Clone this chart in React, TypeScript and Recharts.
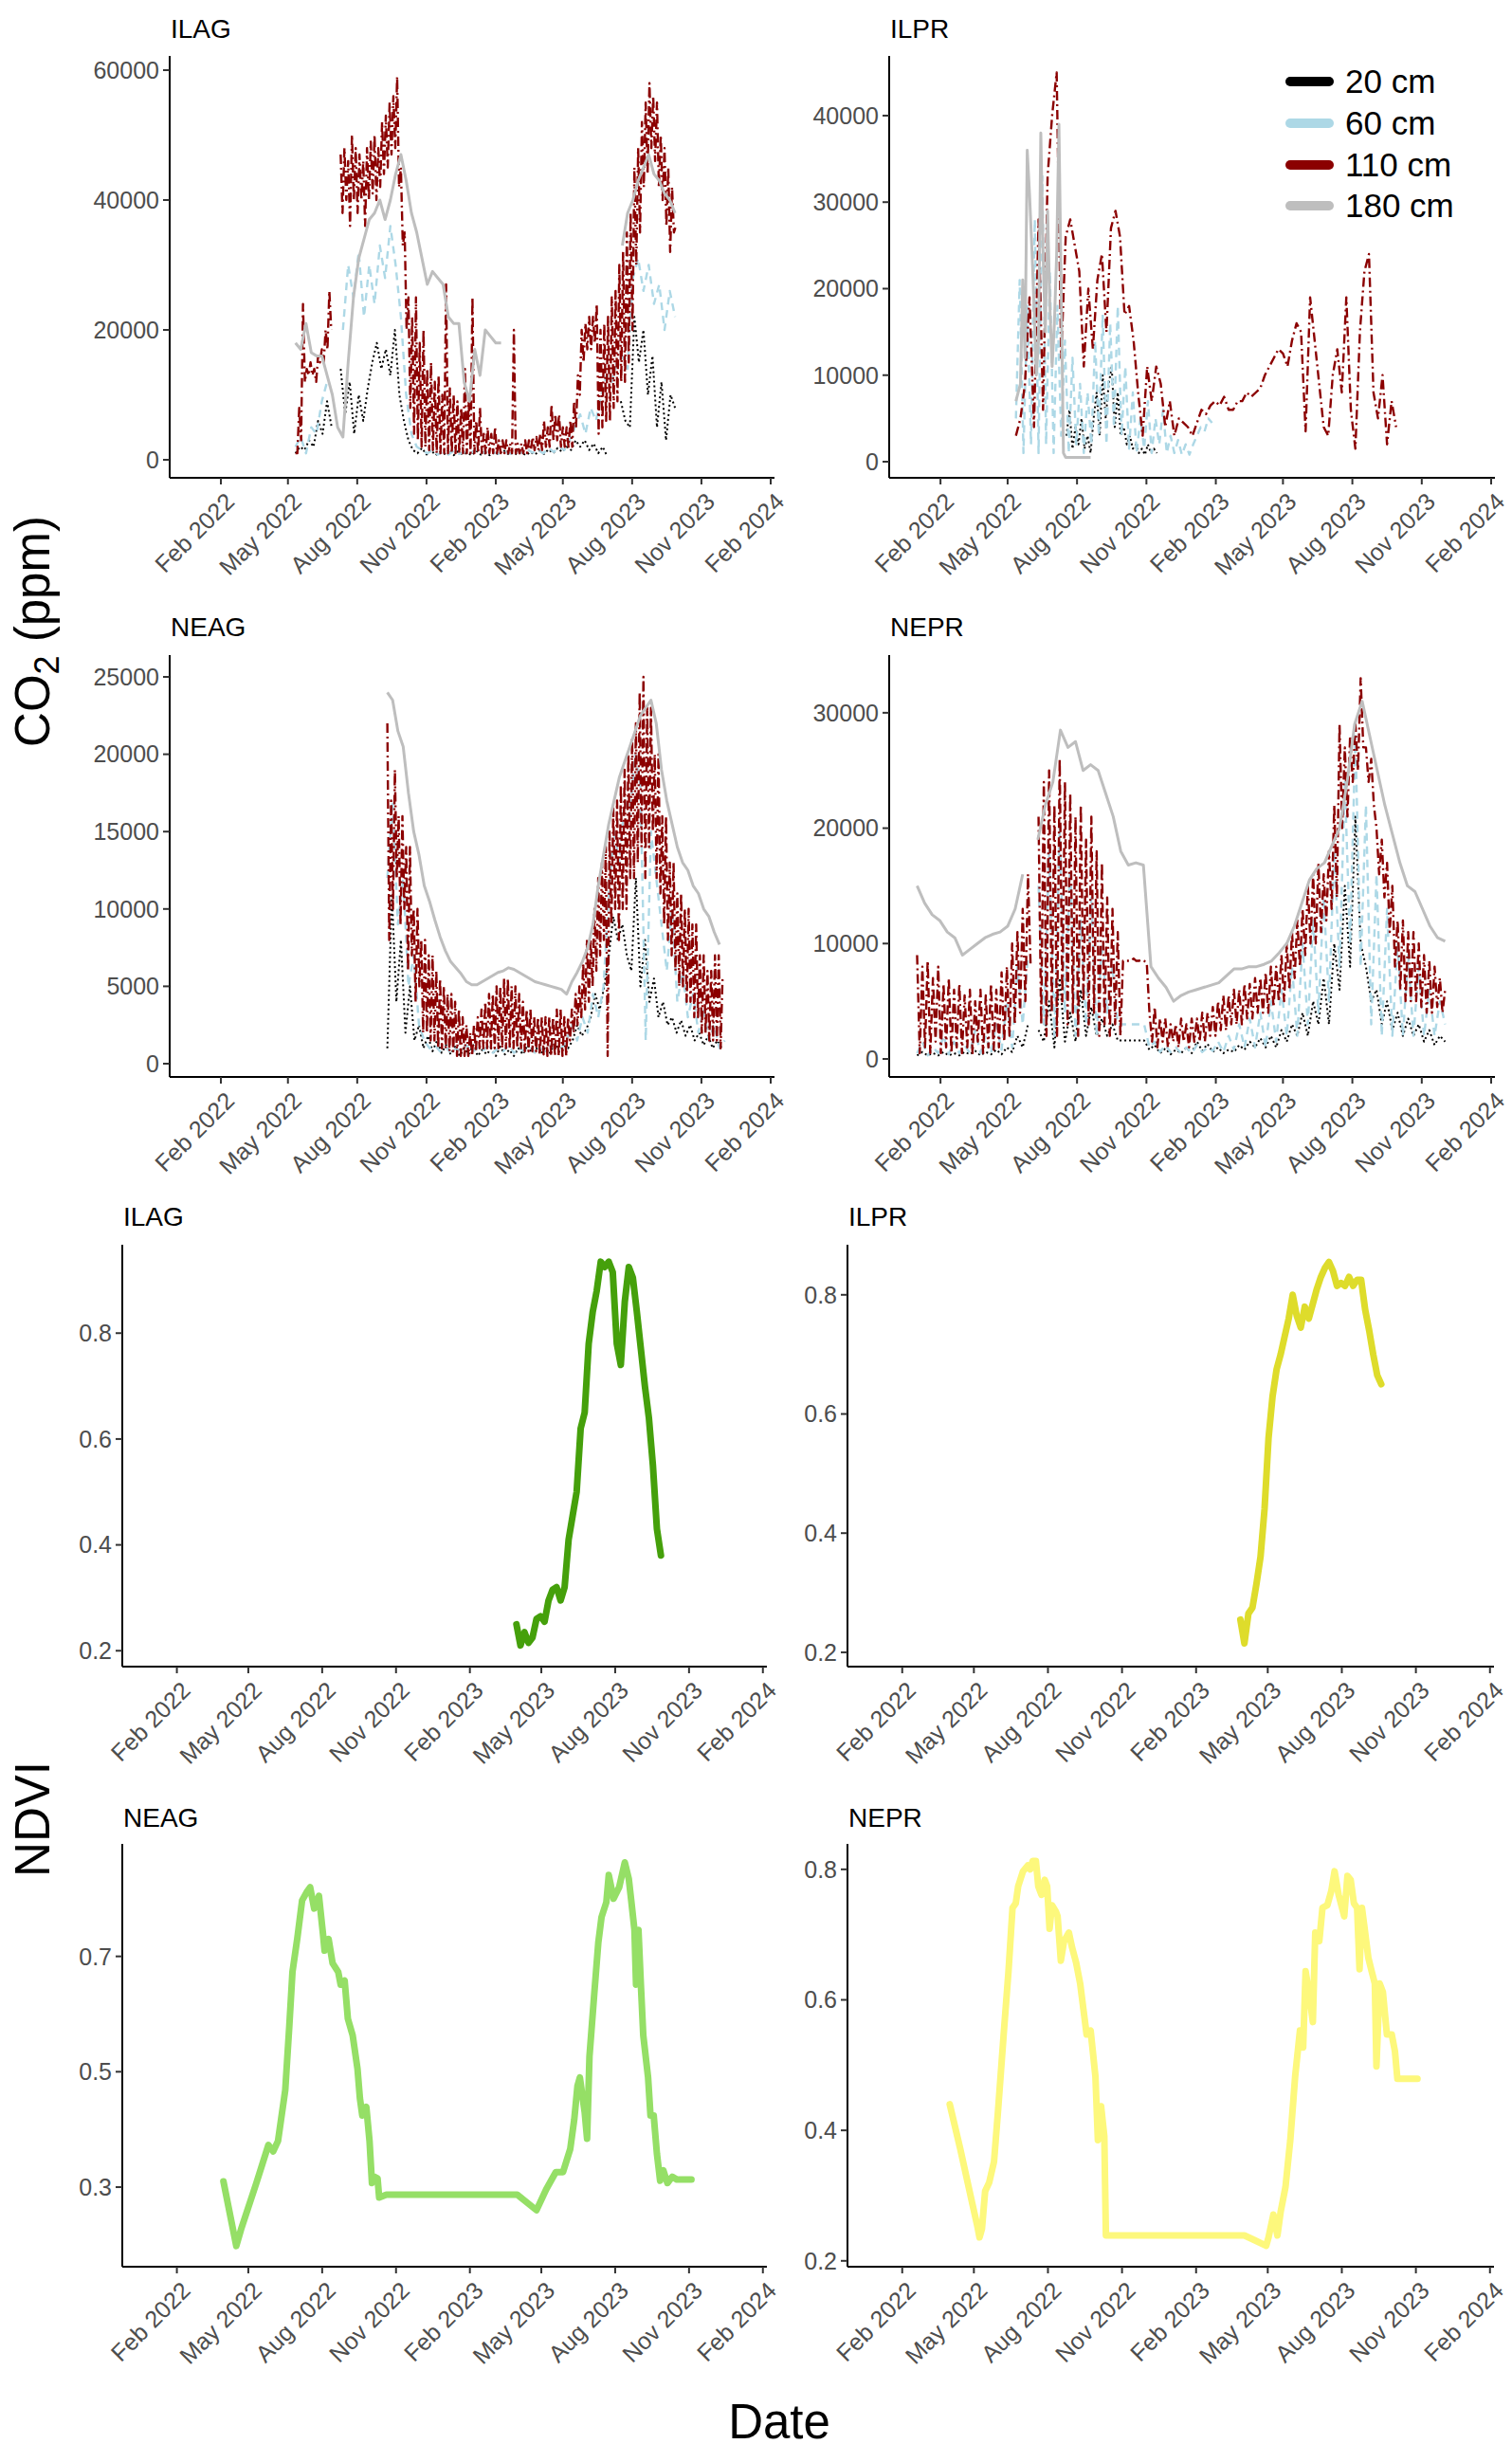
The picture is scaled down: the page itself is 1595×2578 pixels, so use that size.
import React from 'react'
import { LineChart, Line, XAxis, YAxis } from 'recharts'

const DAY = 86400000
const t = (s: string) => Date.parse(s + 'T00:00:00Z')

// CO2 values are in thousand ppm, on a regular date grid (start, step in days)
const DEPTHS = ['20 cm', '60 cm', '110 cm', '180 cm']
const DEPTH_COLORS = ['#000000', '#ADD8E6', '#8B0000', '#BEBEBE']
const DEPTH_DASH = ['2 3', '8 6', '10 4 2 4', undefined]
const DEPTH_WIDTH = [2, 2.4, 2.4, 3]

const ILAG_20 = [1, 2, 1.5, 3, 2, 6, 4, 9, 5, null, 14, 7, 12, 4, 10, 6, 11, 15, 18, 14, 17, 13, 20, 10, 6, 3, 1.5,
  1, 1.8, 0.8, 1.5, 0.7, 1.2, 0.9, 1.6, 0.7, 1.3, 0.8, 1.1, 0.7, 1.4, 0.8, 1, 0.7, 1.2, 0.8, 1.5, 0.9, 1.3, 0.8, 1.1, 0.7, 1.2, 0.8, 1.4, 0.9, 1.6, 1, 1.8, 1.2, 2, 1.5,
  3, 2, 3, 1.5, 2.5, 1, 2, 0.5, null, null, 9, 6, 5, 22, 15, 20, 10, 16, 5, 12, 3, 10, 8]
const ILAG_60 = [2, 3.5, 1, 5, 4, 9, 12, null, null, 20, 30, 25, 32, 22, 30, 24, 33, 28, 36, 30, 22, 10, 4, 2, 1.5,
  1, 1.5, 0.8, 1.2, 0.8, 1.4, 0.9, 1.2, 0.8, 1.5, 0.9, 1.3, 0.8, 1.1, 0.8, 1.2, 0.9, 1.4, 1, 1.6, 1.1, 1.5, 1, 1.8, 1.2, 2, 1.5,
  3, 5, 7, 4, 8, 6, 10, 13, 12, 15, 16, 14, 28, 31, 26, 30, 24, 27, 20, 26, 22]
const ILAG_110 = [1, 1, 8, 3, 24, 12, 14, 13, 15, 13, 14, 12, 16, 15, 17, 15, 20, 17, 26, 20,
  null, null, null, null, 47, 38, 48, 40, 46, 36, 50, 40, 48, 38, 47, 40, 46, 36, 48, 40,
  49, 41, 50, 40, 48, 42, 52, 44, 53, 45, 55, 47, 56, 48, 59, 42, 45, 33, 35, 20,
  25, 8, 22, 4, 25, 3, 18, 2, 20, 2, 14, 1.5, 15, 1.5, 12, 1, 13, 1, 10, 1,
  27, 1, 11, 1, 10, 1, 9, 1, 8, 1, 14, 1, 9, 1, 25, 1, 6, 1, 8, 1,
  4, 1, 5, 1, 4, 1, 5, 1, 3, 1, 3, 1, 3, 1, 2.5, 1, 20, 1, 2.5, 1,
  2.5, 1, 3, 1, 3, 1.5, 3.5, 1.5, 3.5, 1.5, 4, 1.5, 6, 2, 5, 2, 8.5, 3, 7, 3,
  7, 2, 5, 2, 5, 2, 6, 2, 9, 5, 13, 10, 20, 15, 21, 17, 22, 17, 22, 18,
  24, 4, 20, 5, 21, 6, 22, 6, 25, 8, 26, 9, 30, 12, 32, 12, 35, 15, 38, 20,
  45, 30, 48, 35, 52, 42, 55, 44, 58, 48, 56, 46, 55, 42, 50, 40, 48, 36, 45, 32,
  42, 35, 36]
const ILAG_180 = [18, 17, 21, 16.5, 16, 16, 13, 10, 5, 3.5, 15, 25, 31, 34, 37, 38, 40, 37, 40, 44,
  47, 43, 38, 35, 31, 27, 29, 28, 27, 22, 21, 21, 12, 9, 17, 13, 20, 19, 18, 18,
  null, null, null, null, null, null, null, null, null, null, null, null, null, null, null, null, null, null, null, null, null, null,
  33, 38, 40, 43, 45, 47, 44, 43, 41, 40, 38]

const ILPR_20 = [3, 6, 1.5, 4, 2, 5, 1.5, 3, 1, 5, 8, 3, 10, 5, 9, 11, 4, 8, 3, 4, 2, 3, 1.5, 2, 1, 1.5, 0.8, 2, 1, 1.5, 1]
const ILPR_60 = [5, 21, 1, 18, 2, 28, 1, 33, 2, 22, 1, 18, 3, 14, 1, 12, 2, 9, 1, 8, 2, 14, 3, 17, 2, 16, 4, 18, 3, 11,
  1.5, 8, 1, 5, 1.5, 7, 1, 5, 2, 6, 1, 3, 1, 2.5, 0.8, 2, 0.8, 2, 3, 4, 3.5, 5, 4.5]
const ILPR_110 = [3, 5, 9, 19, 4, 28, 6, 33, 40, 45, 12, 26, 28, 25, 22, 11, 20, 13, 21, 24,
  15, 27, 29, 26, 17, 18, 14, 8, 3, 11, 7, 11, 9, 4, 7, 3, 5, 4.5, 4, 3,
  4.5, 6, 5.5, 6.5, 7, 6.5, 7.5, 6, 6, 7, 7, 8, 7.5, 8, 8.5, 10, 11, 12, 13, 12.5,
  11, 14, 16, 15, 3.5, 19, 14, 9, 4, 3, 10, 13, 8, 19, 6, 1.5, 15, 22, 24, 8, 5, 10, 2, 7, 4]
const ILPR_180 = [7, 8, 9, 21, 12, 36, 31, 25, 18, 10, 14, 38, 24, 15, 29, 18, 11, 16, 24, 39,
  20, 1, 0.5, 0.5, 0.5, 0.5, 0.5, 0.5, 0.5, 0.5, 0.5, 0.5, 0.5, 0.5]

const NEAG_20 = [1, 11, 4, 8, 2, 5, 1.5, 2.5, 1, 1.8, 0.8, 1.5, 0.7, 1.2,
  0.6, 1.1, 0.5, 1, 0.6, 1.2, 0.5, 0.9, 0.6, 1, 0.5, 1.1, 0.6, 0.9, 0.5, 1, 0.6, 1.2, 0.7, 1, 0.6, 1.1, 0.7, 1.3, 0.8, 1.2, 1,
  1.5, 2.5, 1.8, 2.2, 3, 4.5, 3.5, 5, 7, 9.5, 8, 9, 7, 6, 12, 5, 8, 4, 5.5, 3, 4, 2.5, 3, 2, 2.8, 1.8, 2.5, 1.5, 2, 1.2, 1.8, 1, 1.5, 1]
const NEAG_60 = [12, 17, 9, 12, 5, 7, 2.5, 1.5, 1,
  1.2, 0.8, 1.1, 0.7, 1, 0.8, 1.2, 0.7, 1, 0.8, 1.1, 0.7, 1, 0.8, 1.2, 0.7, 1, 0.8, 1.1, 0.7, 1, 0.8, 1.2, 0.9, 1,
  1.5, 2.5, 1.5, 3, 2, 4.5, 3, 5, 11, 15, 13, 17, 16, 20, 18, 1.5, 15, 12, 9, 6, 10, 4, 6, 3, 4.5, 2, 3.5, 1.5, 2.5, 1, 1.5]
const NEAG_110 = [22, 8, 17, 10, 19, 12, 16, 9, 16, 10, 14, 6, 14, 7, 10, 4, 10, 5, 8, 2,
  8, 2, 7, 1.5, 7, 1.5, 6, 1, 5.5, 1, 5, 1, 4.5, 0.8, 4.5, 0.8, 4, 0.5, 3.5, 0.5,
  3, 0.5, 2.5, 0.5, 2, 0.5, 2.5, 0.8, 3, 1, 3.5, 1, 4, 1, 4.5, 1, 4.5, 1, 5, 1,
  5, 1, 5.5, 1, 5.5, 1, 5, 1, 5, 1, 4.5, 1, 4, 0.8, 3.5, 0.8, 3.5, 0.8, 3, 0.8,
  3, 0.6, 3, 0.6, 3, 0.5, 3, 0.5, 3, 0.5, 3.5, 0.5, 3.5, 0.5, 3, 0.5, 3, 1.5, 3.5, 2,
  4.5, 2.5, 5, 3, 6.5, 3.5, 8, 4, 8, 5, 10, 6, 12, 7, 13, 8, 14, 0.5, 15, 9,
  16.5, 10, 17, 8, 18, 10, 19, 10, 20, 12, 21, 12, 22, 13, 24, 14, 25, 12, 23, 14,
  23, 15, 20, 12, 20, 11, 16, 9, 16, 8, 13, 7, 13, 6, 11, 5, 11, 5, 10, 4,
  10, 4, 9, 3, 9, 3, 7, 2, 7, 2, 6, 1.5, 6, 1.5, 7, 1.5, 7, 1, 5.5]
const NEAG_180 = [24, 23.5, 21.5, 20.5, 17.5, 15, 13.5, 11.5, 10.5, 9.3, 8.2, 7.3, 6.6, 6.2, 5.8, 5.3, 5.1, 5.1, 5.3, 5.5,
  5.7, 5.9, 6, 6.2, 6.1, 5.9, 5.7, 5.5, 5.3, 5.2, 5.1, 5, 4.9, 4.8, 4.5, 5.3, 5.9, 6.6, 7.5, 9,
  11.5, 13.5, 15.5, 17, 18.5, 19.5, 20.5, 21.5, 22.5, 23, 23.5, 22, 19, 17, 15.5, 14, 13, 12.5, 11.5, 11,
  10, 9.5, 8.5, 7.7]

const NEPR_20 = [0.3, 0.6, 0.3, 0.5, 0.3, 0.6, 0.3, 0.5, 0.3, 0.6, 0.4, 0.7, 0.3, 0.6, 0.4, 0.8, 0.4, 1, 0.6, 2,
  1, 3, null, 2.5, 1.5, 5, 1, 7, 1.5, 4, 1.5, 6, 2, 4.5, 2, 3.5, 2, 3, 1.6, 1.6,
  1.6, 1.6, 1.6, 1.6, 0.8, 1.2, 0.5, 0.9, 0.4, 0.8, 0.5, 1, 0.5, 1.5, 0.7, 1.3, 0.6, 1, 0.5, 0.8,
  0.6, 1.2, 0.8, 1.5, 1, 1.8, 1, 2, 1, 2.5, 1.5, 3, 2, 4, 2, 5, 3, 7, 3, 10,
  6, 15, 8, 21, 10, 8, 5, 6, 3, 5, 2.5, 4, 2, 3.5, 2, 3, 1.5, 2.5, 1.2, 2, 1.5]
const NEPR_60 = [0.5, 1.5, 0.3, 1, 0.5, 2, 0.4, 1.5, 0.5, 1.2, 0.5, 2.5, 0.5, 2, 0.5, 3, 0.8, 5, 1, 8,
  3, 9, null, 15, 3, 18, 2, 20, 4, 17, 2, 12, 3, 14, 2, 10, 4, 8, 3, 3,
  3, 3, 3, 3, 1, 1.5, 0.6, 1.2, 0.6, 1, 0.5, 1, 0.5, 1.2, 0.6, 1, 0.7, 1.5, 0.6, 2,
  0.8, 3, 1, 3.5, 1, 4, 1, 5, 1.5, 6, 2, 8, 2, 10, 3, 12, 4, 14, 5, 18,
  8, 24, 10, 28, 8, 22, 3, 16, 2, 13, 2, 10, 2, 9, 2, 8, 2, 6, 2, 5, 3]
const NEPR_110 = [9, 0.5, 8, 1, 8.5, 0.5, 7, 1.5, 8, 0.5, 6.5, 1, 7, 0.5, 6, 1, 6.5, 0.5, 5.5, 1,
  6, 0.5, 5, 1.5, 6, 0.5, 5.5, 1, 6.5, 0.8, 6, 1, 7.5, 1.5, 8, 2, 10, 3, 11, 4,
  13, 5, 16, 8, null, null, 21, 3, 24, 2, 25, 4, 22, 2, 26, 5, 24, 3, 23, 4,
  21, 2, 22, 5, 19, 3, 21, 4, 18, 2, 17, 3, 14, 2, 13, 3, 11, 2, 8.5, 8.5,
  8.5, 8.5, 8.7, 8.5, 8.5, 8.6, 8.5, 8.3, 4, 1.5, 4.5, 1, 3.5, 1.5, 3.5, 1, 3, 1.5,
  3, 1, 3.5, 1.5, 3, 1, 3.5, 1.5, 3.5, 1.5, 4, 1.5, 4, 2, 4.5, 2, 5, 2.5, 5.5, 2.5,
  5.5, 3, 6, 3, 6, 3, 6.5, 3.5, 6.5, 3.5, 7, 4, 7, 4, 7.5, 4, 8, 4.5, 8, 5,
  9, 5, 10, 6, 11, 7, 12, 8, 13, 9, 15, 10, 16, 10, 17, 11, 16, 12, 18, 13,
  22, 14, 29, 20, 27, 21, 28, 24, 29, 25, 33, 27, 27, 24, 26, 22, 20, 16, 19, 14,
  17, 11, 15, 8, 12, 6, 12, 5, 11, 5, 11, 5, 10, 4.5, 9, 4, 8.5, 4, 8, 4.5,
  7, 4, 6]
const NEPR_180 = [15, 13.5, 12.5, 12, 11, 10.5, 9, 9.5, 10, 10.5, 10.8, 11, 11.5, 13, 16, null, 19, 22, 24, 28.5,
  27, 27.5, 25, 25.5, 25, 23, 21, 18, 16.8, 17, 16.8, 8, 7, 6.2, 5, 5.5, 5.8, 6, 6.2, 6.4,
  6.6, 7.2, 7.8, 7.8, 8, 8, 8.2, 8.5, 9.2, 10, 11.5, 13.5, 15.5, 16.5, 17, 18.5, 20, 24, 29, 31,
  28, 25, 22, 19.5, 17, 15, 14.5, 13, 11.5, 10.5, 10.2]

// NDVI
const ILAG_NDVI = [0.25, 0.21, 0.235, 0.215, 0.225, 0.26, 0.265, 0.255, 0.295, 0.315, 0.32, 0.295, 0.32, 0.41, 0.455, 0.5,
  0.62, 0.65, 0.78, 0.84, 0.88, 0.935, 0.925, 0.935, 0.915, 0.78, 0.74, 0.86, 0.925, 0.905, 0.84, 0.77, 0.7, 0.64, 0.55, 0.43, 0.38]
const ILPR_NDVI = [0.255, 0.215, 0.265, 0.275, 0.315, 0.36, 0.44, 0.56, 0.63, 0.675, 0.7, 0.73, 0.76, 0.8, 0.765, 0.745,
  0.78, 0.76, 0.785, 0.81, 0.83, 0.845, 0.855, 0.84, 0.815, 0.82, 0.815, 0.83, 0.815, 0.825, 0.825, 0.775, 0.74, 0.7, 0.665, 0.65]

const NEAG_NDVI_DATES = ['2022-03-31', '2022-04-16', '2022-04-22', '2022-05-11', '2022-05-26', '2022-06-01', '2022-06-07',
  '2022-06-16', '2022-06-21', '2022-06-25', '2022-07-01', '2022-07-07', '2022-07-13', '2022-07-17', '2022-07-22',
  '2022-07-28', '2022-08-02', '2022-08-04', '2022-08-09', '2022-08-14', '2022-08-21', '2022-08-24', '2022-08-29',
  '2022-09-02', '2022-09-08', '2022-09-14', '2022-09-17', '2022-09-20', '2022-09-25', '2022-09-29', '2022-10-02',
  '2022-10-05', '2022-10-09', '2022-10-11', '2022-10-20', '2023-04-01', '2023-04-25', '2023-05-07', '2023-05-19',
  '2023-05-28', '2023-06-06', '2023-06-11', '2023-06-15', '2023-06-18', '2023-06-24', '2023-06-27', '2023-06-30',
  '2023-07-06', '2023-07-11', '2023-07-15', '2023-07-21', '2023-07-24', '2023-07-30', '2023-08-06', '2023-08-13',
  '2023-08-18', '2023-08-21', '2023-08-25', '2023-08-27', '2023-08-30', '2023-09-02', '2023-09-05', '2023-09-11',
  '2023-09-14', '2023-09-18', '2023-09-22', '2023-09-26', '2023-09-30', '2023-10-05', '2023-10-11', '2023-10-17', '2023-11-04']
const NEAG_NDVI = [0.31, 0.198, 0.227, 0.307, 0.373, 0.362, 0.38, 0.468, 0.578, 0.673, 0.731, 0.797, 0.812, 0.82, 0.783,
  0.805, 0.739, 0.71, 0.73, 0.688, 0.673, 0.651, 0.658, 0.592, 0.563, 0.505, 0.454, 0.424, 0.439, 0.38, 0.307,
  0.318, 0.315, 0.282, 0.287, 0.287, 0.26, 0.296, 0.326, 0.326, 0.366, 0.417, 0.475, 0.49, 0.43, 0.384, 0.527,
  0.636, 0.724, 0.768, 0.794, 0.841, 0.8, 0.82, 0.863, 0.834, 0.797, 0.746, 0.651, 0.746, 0.651, 0.563, 0.49,
  0.424, 0.424, 0.358, 0.311, 0.329, 0.307, 0.318, 0.313, 0.313]

const NEPR_NDVI_DATES = ['2022-04-01', '2022-04-14', '2022-04-29', '2022-05-05', '2022-05-08', '2022-05-11', '2022-05-15',
  '2022-05-20', '2022-05-26', '2022-05-31', '2022-06-07', '2022-06-13', '2022-06-18', '2022-06-22', '2022-06-25',
  '2022-07-01', '2022-07-07', '2022-07-10', '2022-07-13', '2022-07-17', '2022-07-20', '2022-07-24', '2022-07-28',
  '2022-07-31', '2022-08-03', '2022-08-06', '2022-08-11', '2022-08-13', '2022-08-17', '2022-08-21', '2022-08-27',
  '2022-08-31', '2022-09-05', '2022-09-10', '2022-09-14', '2022-09-18', '2022-09-23', '2022-09-29', '2022-10-02',
  '2022-10-06', '2022-10-10', '2022-10-12', '2023-04-02', '2023-04-14', '2023-04-29', '2023-05-02', '2023-05-08',
  '2023-05-13', '2023-05-17', '2023-05-23', '2023-05-29', '2023-06-04', '2023-06-10', '2023-06-14', '2023-06-17',
  '2023-06-22', '2023-06-26', '2023-06-29', '2023-07-04', '2023-07-08', '2023-07-14', '2023-07-19', '2023-07-23',
  '2023-07-28', '2023-08-04', '2023-08-08', '2023-08-12', '2023-08-16', '2023-08-20', '2023-08-23', '2023-08-26',
  '2023-08-30', '2023-09-03', '2023-09-07', '2023-09-11', '2023-09-13', '2023-09-17', '2023-09-21', '2023-09-26',
  '2023-10-02', '2023-10-06', '2023-10-09', '2023-11-03']
const NEPR_NDVI = [0.44, 0.372, 0.288, 0.255, 0.236, 0.249, 0.307, 0.32, 0.352, 0.43, 0.547, 0.644, 0.741, 0.748, 0.774,
  0.797, 0.806, 0.8, 0.813, 0.813, 0.774, 0.761, 0.784, 0.774, 0.709, 0.745, 0.735, 0.728, 0.66, 0.69, 0.703,
  0.68, 0.657, 0.625, 0.586, 0.547, 0.553, 0.482, 0.385, 0.437, 0.391, 0.239, 0.239, 0.232, 0.223, 0.236, 0.271,
  0.239, 0.275, 0.313, 0.385, 0.482, 0.553, 0.527, 0.644, 0.605, 0.566, 0.703, 0.69, 0.741, 0.745, 0.767, 0.797,
  0.761, 0.728, 0.79, 0.784, 0.748, 0.741, 0.647, 0.741, 0.703, 0.664, 0.644, 0.625, 0.498, 0.625, 0.612, 0.547,
  0.547, 0.521, 0.479, 0.479]

const X_DOMAIN = [t('2021-11-25'), t('2024-02-06')]
const X_TICKS = ['2022-02-01', '2022-05-01', '2022-08-01', '2022-11-01', '2023-02-01', '2023-05-01', '2023-08-01', '2023-11-01', '2024-02-01'].map(t)
const MONTHS = ['Jan', 'Feb', 'Mar', 'Apr', 'May', 'Jun', 'Jul', 'Aug', 'Sep', 'Oct', 'Nov', 'Dec']

type Pt = { t: number; v: number | null }

function grid(start: string, step: number, values: (number | null)[], scale = 1): Pt[] {
  const t0 = t(start)
  return values.map((v, i) => ({ t: t0 + i * step * DAY, v: v == null ? null : v * scale }))
}

function pairs(dates: string[], values: number[]): Pt[] {
  return dates.map((d, i) => ({ t: t(d), v: values[i] }))
}

const depthSeries = (list: Pt[][]) =>
  list.map((data, i) => ({ data, color: DEPTH_COLORS[i], dash: DEPTH_DASH[i], width: DEPTH_WIDTH[i], name: DEPTHS[i] }))

const PANELS = [
  {
    title: 'ILAG', box: [179, 59, 817, 504], titleY: 40, yDomain: [-2774, 62190], yTicks: [0, 20000, 40000, 60000],
    lines: depthSeries([grid('2022-05-11', 6, ILAG_20, 1000), grid('2022-05-11', 7, ILAG_60, 1000), grid('2022-05-11', 2.5, ILAG_110, 1000), grid('2022-05-11', 7, ILAG_180, 1000)]),
  },
  {
    title: 'ILPR', box: [938, 59, 1577, 504], titleY: 40, yDomain: [-1863, 46900], yTicks: [0, 10000, 20000, 30000, 40000],
    lines: depthSeries([grid('2022-07-18', 4, ILPR_20, 1000), grid('2022-05-12', 5, ILPR_60, 1000), grid('2022-05-12', 6, ILPR_110, 1000), grid('2022-05-12', 3, ILPR_180, 1000)]),
  },
  {
    title: 'NEAG', box: [179, 691, 817, 1136], titleY: 671, yDomain: [-858, 26410], yTicks: [0, 5000, 10000, 15000, 20000, 25000],
    lines: depthSeries([grid('2022-09-10', 6, NEAG_20, 1000), grid('2022-09-10', 7, NEAG_60, 1000), grid('2022-09-10', 2.5, NEAG_110, 1000), grid('2022-09-10', 7, NEAG_180, 1000)]),
  },
  {
    title: 'NEPR', box: [938, 691, 1577, 1136], titleY: 671, yDomain: [-1561, 35000], yTicks: [0, 10000, 20000, 30000],
    lines: depthSeries([grid('2022-01-01', 7, NEPR_20, 1000), grid('2022-01-01', 7, NEPR_60, 1000), grid('2022-01-01', 3.5, NEPR_110, 1000), grid('2022-01-01', 10, NEPR_180, 1000)]),
  },
  {
    title: 'ILAG', box: [129, 1313, 809, 1758], titleY: 1293, yDomain: [0.17, 0.967], yTicks: [0.2, 0.4, 0.6, 0.8],
    lines: [{ data: grid('2023-03-31', 5, ILAG_NDVI), color: '#45A00B', dash: undefined, width: 7, name: 'NDVI' }],
  },
  {
    title: 'ILPR', box: [894, 1313, 1576, 1758], titleY: 1293, yDomain: [0.176, 0.884], yTicks: [0.2, 0.4, 0.6, 0.8],
    lines: [{ data: grid('2023-03-28', 5, ILPR_NDVI), color: '#DEDC2B', dash: undefined, width: 7, name: 'NDVI' }],
  },
  {
    title: 'NEAG', box: [129, 1945, 809, 2391], titleY: 1927, yDomain: [0.162, 0.895], yTicks: [0.3, 0.5, 0.7],
    lines: [{ data: pairs(NEAG_NDVI_DATES, NEAG_NDVI), color: '#95DF66', dash: undefined, width: 7, name: 'NDVI' }],
  },
  {
    title: 'NEPR', box: [894, 1945, 1576, 2391], titleY: 1927, yDomain: [0.191, 0.839], yTicks: [0.2, 0.4, 0.6, 0.8],
    lines: [{ data: pairs(NEPR_NDVI_DATES, NEPR_NDVI), color: '#FDF87C', dash: undefined, width: 7, name: 'NDVI' }],
  },
]

const FONT = '"Liberation Sans", Arial, sans-serif'
const TICK_COLOR = '#4D4D4D'

function DateTick(props: any) {
  const { x, y, payload } = props
  const d = new Date(payload.value)
  return (
    <g transform={`translate(${x + 3},${y + 1})`}>
      <text transform="rotate(-45)" textAnchor="end" dy="0.72em" fontSize={25} fill={TICK_COLOR} fontFamily={FONT}>
        {`${MONTHS[d.getUTCMonth()]} ${d.getUTCFullYear()}`}
      </text>
    </g>
  )
}

function Panel({ p }: { p: (typeof PANELS)[number] }) {
  const YW = 110
  const MT = 10
  const MR = 30
  const XH = 130
  const [x0, y0, x1, y1] = p.box
  const w = x1 - x0
  const h = y1 - y0
  return (
    <div style={{ position: 'absolute', left: x0 - YW, top: y0 - MT }}>
      <LineChart width={YW + w + MR} height={MT + h + XH} margin={{ top: MT, right: MR, bottom: 0, left: 0 }}>
        <XAxis
          dataKey="t"
          type="number"
          domain={X_DOMAIN}
          ticks={X_TICKS}
          interval={0}
          allowDataOverflow
          height={XH}
          tickSize={7}
          tickMargin={6}
          tick={<DateTick />}
          axisLine={{ stroke: '#000', strokeWidth: 2 }}
          tickLine={{ stroke: '#333', strokeWidth: 2 }}
        />
        <YAxis
          type="number"
          domain={p.yDomain}
          ticks={p.yTicks}
          interval={0}
          allowDataOverflow
          width={YW}
          tickSize={7}
          tickMargin={4}
          tick={{ fill: TICK_COLOR, fontSize: 25, fontFamily: FONT }}
          axisLine={{ stroke: '#000', strokeWidth: 2 }}
          tickLine={{ stroke: '#333', strokeWidth: 2 }}
        />
        {p.lines.map((s, i) => (
          <Line
            key={i}
            data={s.data}
            dataKey="v"
            name={s.name}
            type="linear"
            stroke={s.color}
            strokeWidth={s.width}
            strokeDasharray={s.dash}
            strokeLinecap={s.width > 3 ? 'round' : 'butt'}
            strokeLinejoin="round"
            dot={false}
            activeDot={false}
            connectNulls={false}
            isAnimationActive={false}
          />
        ))}
      </LineChart>
    </div>
  )
}

export default function App() {
  const legendY = [86, 130, 174, 217]
  return (
    <div style={{ position: 'absolute', left: 0, top: 0, width: 1595, height: 2578, background: '#fff', fontFamily: FONT }}>
      {PANELS.map((p, i) => (
        <Panel key={i} p={p} />
      ))}
      <svg width={1595} height={2578} style={{ position: 'absolute', left: 0, top: 0, pointerEvents: 'none' }} fontFamily={FONT}>
        {PANELS.map((p, i) => (
          <text key={i} x={p.box[0] + 1} y={p.titleY} fontSize={28} fill="#000">
            {p.title}
          </text>
        ))}
        {DEPTHS.map((d, i) => (
          <g key={d}>
            <line x1={1361} x2={1402} y1={legendY[i]} y2={legendY[i]} stroke={DEPTH_COLORS[i]} strokeWidth={10} strokeLinecap="round" />
            <text x={1419} y={legendY[i] + 12} fontSize={35} fill="#000">
              {d}
            </text>
          </g>
        ))}
        <text transform="translate(52,666) rotate(-90)" textAnchor="middle" fontSize={51} fill="#000">
          CO<tspan fontSize={36} dy={10}>2</tspan>
          <tspan dy={-10}> (ppm)</tspan>
        </text>
        <text transform="translate(52,1919) rotate(-90)" textAnchor="middle" fontSize={51} fill="#000">
          NDVI
        </text>
        <text x={822} y={2572} textAnchor="middle" fontSize={51} fill="#000">
          Date
        </text>
      </svg>
    </div>
  )
}
